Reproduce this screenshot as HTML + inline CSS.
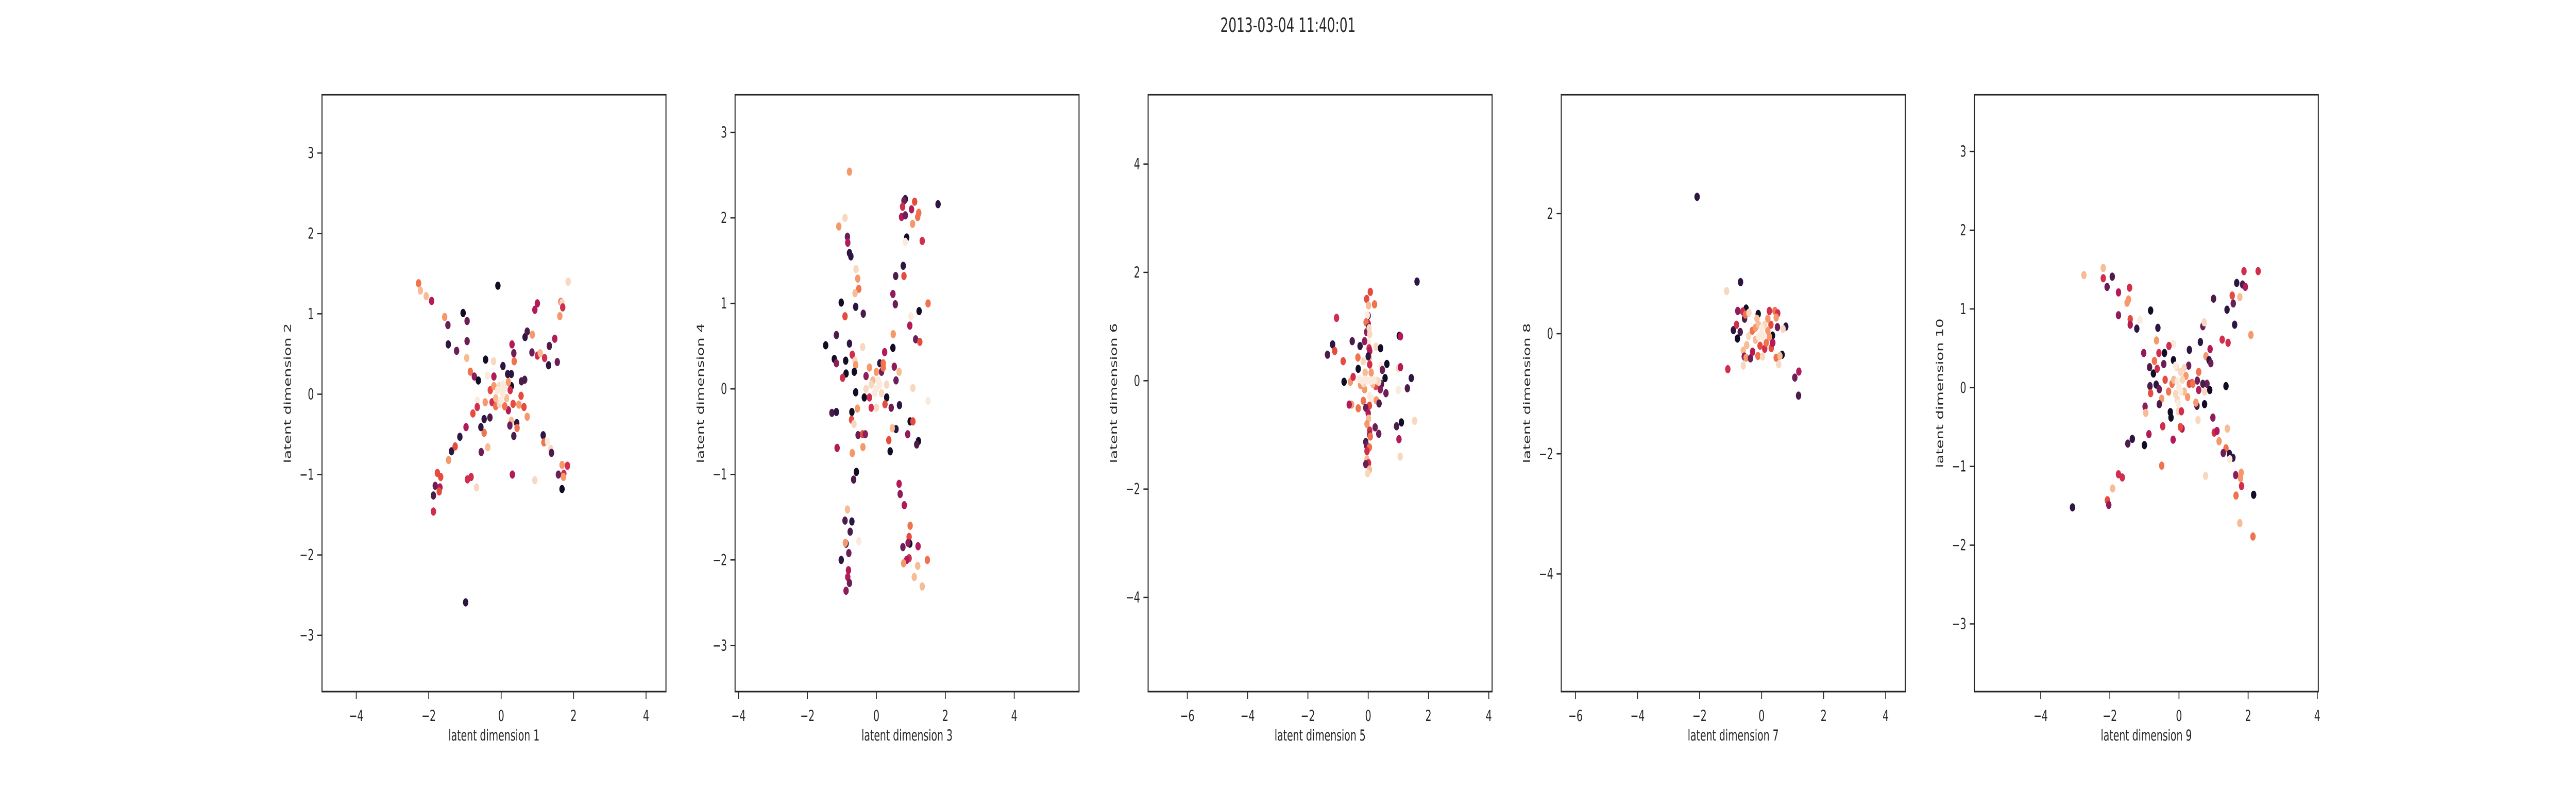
<!DOCTYPE html>
<html><head><meta charset="utf-8"><style>
html,body{margin:0;padding:0;background:#fff;width:100%;height:100%;overflow:hidden;}
svg{display:block;width:100vw;height:100vh;font-family:"DejaVu Sans","Liberation Sans",sans-serif;}
</style></head><body>
<svg id="fig" viewBox="0 0 7680 1536" preserveAspectRatio="none">
<rect x="0" y="0" width="7680" height="1536" fill="#ffffff"/>
<text x="3840" y="62" text-anchor="middle" font-size="38" fill="#262626">2013-03-04 11:40:01</text>
</svg>
<script>
const palette = ['#120c25','#2d1641','#4c1d4b','#6b1f56','#8e1d5b','#b21a58','#d12d4d','#e64b3f','#f0724f','#f5996d','#f7bb96','#f8d8c0','#faebdd'];

const xLabels = ['latent dimension 1','latent dimension 3','latent dimension 5','latent dimension 7','latent dimension 9'];
const yLabels = ['latent dimension 2','latent dimension 4','latent dimension 6','latent dimension 8','latent dimension 10'];
const xDomains = [[-4.946,4.55],[-4.10,5.88],[-7.30,4.11],[-6.46,4.63],[-5.92,4.03]];
const yDomains = [[-3.70,3.725],[-3.54,3.44],[-5.74,5.28],[-5.96,3.98],[-3.86,3.72]];
const xTicks = [[-4,-2,0,2,4],[-4,-2,0,2,4],[-6,-4,-2,0,2,4],[-6,-4,-2,0,2,4],[-4,-2,0,2,4]];
const yTicks = [[-3,-2,-1,0,1,2,3],[-3,-2,-1,0,1,2,3],[-4,-2,0,2,4],[-4,-2,0,2],[-3,-2,-1,0,1,2,3]];

const data1 = [[-2.28,1.38,8],[-2.23,1.29,10],[-2.07,1.22,10],[-1.92,1.16,5],[-1.56,0.96,9],[-1.47,0.86,3],[-1.46,0.62,1],[-1.23,0.54,3],[-1.05,1.01,0],[-0.94,0.91,3],[-0.94,0.66,3],[-0.95,0.45,10],[-0.85,0.28,8],[-0.74,0.22,4],[-0.63,0.17,0],[-0.43,0.43,0],[-0.09,1.35,0],[-0.21,0.41,11],[-0.38,0.23,12],[0.05,0.35,1],[-0.66,-0.08,12],[-0.66,-0.16,6],[-0.78,-0.24,7],[-0.97,-0.41,5],[-1.14,-0.53,1],[-1.37,-0.71,1],[-1.27,-0.65,7],[-1.45,-0.82,9],[-1.76,-0.98,7],[-1.67,-1.03,7],[-1.82,-1.14,3],[-1.69,-1.16,5],[-1.71,-1.21,7],[-1.87,-1.26,2],[-1.87,-1.46,6],[-0.93,-1.06,6],[-0.83,-1.03,6],[-0.68,-1.16,11],[-0.98,-2.59,1],[-0.55,-0.72,3],[-0.37,-0.66,10],[-0.47,-0.48,8],[-0.47,-0.31,1],[-0.56,-0.41,1],[-0.31,-0.29,2],[-0.44,-0.10,9],[0.30,0.62,5],[0.35,0.51,3],[0.36,0.41,8],[0.18,0.25,1],[0.28,0.25,1],[0.56,0.16,2],[0.65,0.18,2],[0.55,-0.02,7],[0.63,-0.16,7],[0.49,-0.13,9],[0.72,-0.28,9],[0.28,-0.33,10],[0.43,-0.36,1],[0.44,-0.42,8],[0.35,-0.52,2],[0.24,-0.39,3],[0.31,-1.00,5],[0.93,-1.07,11],[0.66,0.71,1],[0.72,0.78,2],[0.86,0.74,9],[0.85,0.52,3],[1.00,0.48,6],[1.08,0.51,10],[1.20,0.45,6],[1.31,0.36,1],[1.33,0.60,2],[1.48,0.69,5],[1.55,0.40,3],[0.93,1.05,5],[1.00,1.13,5],[1.65,1.15,8],[1.68,1.14,11],[1.70,1.08,6],[1.62,0.97,9],[1.85,1.40,11],[1.16,-0.51,1],[1.18,-0.60,8],[1.28,-0.59,12],[1.37,-0.68,11],[1.39,-0.73,2],[1.68,-0.88,9],[1.83,-0.89,6],[1.58,-1.00,3],[1.73,-0.99,6],[1.72,-1.03,9],[1.68,-1.18,0],
[0.28,0.1,0],[-0.25,-0.1,6],[0.25,0.05,6],[-0.3,0.05,7],[-0.2,0.22,5],[0.2,-0.2,5],[0.33,-0.12,7],[-0.15,-0.15,8],[0.1,-0.15,8],[-0.2,0.1,9],[0.2,0.15,9],[-0.15,-0.05,10],[0.15,-0.05,10],[-0.05,0.1,11],[-0.05,-0.12,11],[-0.1,0.05,12],[0.05,0,12],[0,-0.08,12],[0.1,0.08,12],[0,0.05,12],[0.05,0.12,12]];

const data2 = [[-0.78,2.54,9],[-0.91,2.00,11],[-1.09,1.90,9],[-0.84,1.78,3],[-0.83,1.71,5],[-0.78,1.59,1],[-0.74,1.55,1],[-0.59,1.40,11],[-0.54,1.29,9],[-0.51,1.17,8],[-0.62,1.12,10],[-1.02,1.01,0],[-0.91,0.85,7],[-0.60,0.96,1],[-0.38,0.88,2],[-1.16,0.63,2],[-1.47,0.51,0],[-1.22,0.35,0],[-1.16,0.30,4],[-0.89,0.33,0],[-0.88,0.18,0],[-0.78,0.53,1],[-0.70,0.40,6],[-0.62,0.33,11],[-0.60,0.28,9],[-0.64,0.20,0],[-0.40,0.49,11],[-0.98,0.13,6],[-0.60,-0.04,0],[-1.29,-0.28,2],[-1.16,-0.27,1],[-0.71,-0.27,0],[-0.72,-0.36,7],[-0.65,-0.41,11],[-0.55,-0.23,9],[-0.53,-0.54,3],[-0.40,-0.53,7],[-0.32,-0.53,4],[-1.14,-0.69,5],[-0.70,-0.75,9],[-0.39,-0.68,9],[-0.58,-0.97,0],[-0.66,-1.06,2],[-0.84,-1.41,10],[-0.91,-1.54,2],[-0.71,-1.55,1],[-0.76,-1.67,2],[-0.88,-1.81,1],[-0.90,-1.80,9],[-0.51,-1.78,12],[-0.80,-1.92,3],[-1.02,-2.00,1],[-0.81,-2.12,5],[-0.83,-2.20,5],[-0.78,-2.27,3],[-0.88,-2.36,4],[0.84,2.22,1],[0.80,2.20,3],[0.76,2.13,6],[1.11,2.19,7],[1.02,2.10,5],[1.23,2.06,8],[1.20,2.01,8],[1.05,1.93,9],[0.73,2.01,5],[0.84,2.03,3],[1.79,2.16,1],[0.88,1.77,0],[0.84,1.72,12],[1.33,1.73,6],[0.78,1.44,1],[0.80,1.32,7],[0.56,1.32,2],[0.48,1.11,4],[0.55,0.99,3],[1.50,1.00,8],[1.00,0.85,12],[1.24,0.91,0],[0.97,0.74,5],[1.14,0.58,3],[1.26,0.55,7],[0.49,0.64,9],[0.48,0.48,0],[0.24,0.43,5],[0.66,0.20,10],[0.57,0.10,3],[0.52,0.26,4],[1.06,0.01,11],[1.50,-0.14,12],[0.67,-0.19,1],[0.43,-0.22,3],[0.57,-0.47,1],[0.46,-0.46,10],[0.36,-0.60,7],[0.40,-0.73,0],[0.91,-0.53,4],[0.98,-0.38,0],[1.06,-0.38,7],[1.22,-0.61,0],[1.17,-0.65,2],[0.66,-1.11,5],[0.69,-1.23,4],[0.81,-1.36,5],[0.98,-1.60,8],[0.95,-1.73,7],[0.97,-1.81,0],[0.92,-1.80,4],[0.77,-1.85,3],[1.21,-1.84,5],[0.95,-1.98,6],[0.88,-2.00,5],[1.48,-2.00,8],[0.79,-2.04,9],[1.20,-2.07,10],[1.10,-2.20,10],[1.33,-2.31,10],
[-0.3,0.15,4],[0.1,0.3,1],[0.15,0.2,3],[-0.35,-0.1,0],[0.3,-0.1,0],[-0.2,-0.1,6],[-0.15,-0.22,6],[0.25,-0.18,7],[0.2,0.3,8],[0.2,0.25,8],[-0.2,0.25,9],[0,0.2,9],[-0.1,0.1,10],[0,-0.22,11],[0.15,-0.05,11],[-0.15,0.05,11],[0.3,0.05,11],[-0.3,0,11],[0.1,0.05,12],[0,0,12],[-0.05,-0.05,12],[0.05,0.1,12]];

const data3 = [[1.62,1.83,1],[0.07,1.64,7],[-0.05,1.51,7],[0.21,1.41,8],[0,1.2,3],[0,1.05,5],[-0.05,0.9,4],[0.01,1.39,10],[-0.03,1.21,12],[-1.05,1.16,6],[-0.07,1.08,8],[0.01,0.98,1],[0.03,0.97,11],[0.05,0.86,11],[1.03,0.83,0],[1.07,0.82,5],[0.01,0.71,12],[-0.53,0.73,2],[-1.18,0.67,1],[-1.35,0.48,2],[-1.11,0.55,7],[-0.27,0.64,1],[-0.12,0.73,4],[0.03,0.60,6],[0.26,0.63,11],[0.41,0.60,0],[-0.83,0.36,7],[-0.34,0.43,8],[-0.16,0.36,11],[0.04,0.43,10],[0.42,0.27,12],[0.62,0.31,0],[0.47,0.20,3],[-0.33,0.22,0],[1.00,0.23,11],[1.07,0.25,5],[1.43,0.05,1],[-0.80,-0.02,0],[-0.59,-0.02,9],[-0.50,0.07,6],[0.56,0.05,0],[0.44,-0.06,2],[1.30,-0.14,2],[0.59,-0.23,3],[1.00,-0.17,12],[0.40,-0.16,4],[-0.12,-0.16,9],[0.04,-0.28,12],[0.12,-0.34,12],[0.27,-0.36,9],[0.36,-0.42,2],[-0.16,-0.37,8],[0.04,-0.46,7],[-0.55,-0.44,9],[-0.63,-0.44,5],[-0.33,-0.51,8],[-0.08,-0.50,3],[0,-0.6,5],[0.01,-0.70,10],[-0.04,-0.80,9],[0.23,-0.86,3],[1.10,-0.77,0],[0.94,-0.84,2],[1.54,-0.74,11],[0.35,-0.98,3],[0.05,-0.92,6],[0.05,-1.0,4],[-0.08,-1.13,2],[0.07,-1.03,8],[1.02,-1.08,5],[-0.05,-1.2,3],[0.04,-1.23,8],[-0.04,-1.30,6],[-0.04,-1.45,10],[1.06,-1.40,11],[0.01,-1.52,6],[-0.08,-1.54,3],[0.04,-1.64,10],[-0.02,-1.71,11],
[0.05,0.55,5],[0,0.45,1],[0.05,0.3,6],[0.25,-0.1,7],[-0.25,-0.08,9],[0.1,0.15,9],[-0.1,0.15,10],[0.15,-0.06,10],[0.3,0,11],[0.35,-0.02,11],[-0.15,-0.05,11],[-0.3,0.03,12],[-0.2,0,12],[-0.1,0.02,12],[0,0,12],[0.1,0,12],[0.2,0.01,12]];

const data4 = [[-2.08,2.28,1],[-0.68,0.86,1],[-1.13,0.71,11],[-0.77,0.38,4],[-0.50,0.42,0],[-0.61,0.37,6],[-0.55,0.25,2],[-0.52,0.32,8],[-0.41,0.35,11],[-0.11,0.33,0],[0.25,0.38,6],[0.43,0.38,8],[0.52,0.34,6],[0.47,0.27,9],[0.51,0.11,3],[0.78,0.12,1],[0.69,0.08,11],[-0.91,0.06,1],[-0.69,0.03,2],[-0.81,0.15,6],[-0.78,-0.08,0],[-0.42,-0.04,11],[0.35,-0.03,0],[0.36,-0.15,4],[0.31,-0.24,7],[-0.48,-0.19,10],[-0.59,-0.28,10],[-0.56,-0.38,4],[-0.50,-0.40,9],[-0.36,-0.41,3],[-0.29,-0.30,5],[-0.12,-0.37,8],[0.03,-0.38,11],[0.66,-0.35,0],[0.47,-0.40,8],[0.59,-0.37,10],[0.55,-0.51,11],[-0.59,-0.53,11],[-1.09,-0.59,6],[1.20,-0.63,5],[1.07,-0.73,3],[1.19,-1.03,2],
[0.35,-0.15,5],[0.1,-0.25,6],[-0.05,-0.2,7],[0.3,0.15,7],[0.15,-0.15,8],[-0.3,0.05,8],[-0.2,0.1,9],[0.2,0.05,9],[0.25,-0.05,9],[0.2,0.25,9],[-0.1,0.15,10],[-0.2,-0.1,10],[-0.15,0.25,10],[0.1,0.15,11],[0,0,12],[-0.1,-0.05,12],[0.05,-0.05,12],[0,0.1,12]];

const data5 = [[-2.75,1.43,10],[-2.19,1.52,10],[-2.19,1.39,6],[-1.93,1.41,2],[-2.08,1.28,3],[-1.75,1.21,5],[-1.43,1.27,6],[-1.46,1.12,9],[-1.50,1.08,9],[-1.75,0.92,4],[-1.41,0.87,7],[-1.41,0.80,5],[-1.13,0.86,12],[-1.22,0.75,1],[-0.82,0.98,0],[-0.61,0.76,1],[-0.65,0.60,9],[-0.16,0.56,12],[-0.29,0.53,6],[-1.02,0.44,4],[-0.58,0.44,6],[-0.42,0.44,0],[-0.71,0.34,8],[-0.44,0.30,3],[-0.85,0.26,2],[-0.74,0.18,0],[-0.63,0.24,6],[-0.84,0.02,2],[-0.66,0.04,1],[-0.57,-0.02,3],[-0.82,-0.07,7],[-0.50,-0.14,9],[-0.57,-0.21,2],[-0.98,-0.24,4],[-0.96,-0.32,10],[-0.25,-0.31,0],[-0.23,-0.38,0],[-0.47,-0.49,6],[-0.17,-0.66,5],[-0.87,-0.59,5],[-1.35,-0.65,1],[-1.48,-0.71,2],[-1.00,-0.73,0],[-0.50,-0.99,8],[-1.75,-1.10,6],[-1.64,-1.14,6],[-1.92,-1.28,10],[-2.07,-1.43,7],[-2.03,-1.49,4],[-3.08,-1.52,1],[-0.07,0.26,11],[-0.16,0.35,0],[0.30,0.48,1],[0.62,0.58,1],[0.69,0.78,3],[0.73,0.83,11],[1.00,1.13,2],[0.90,0.49,5],[0.78,0.40,9],[0.87,0.35,1],[0.92,0.31,3],[0.28,0.28,3],[0.57,0.20,8],[0.53,0.09,3],[0.81,0.05,3],[0.69,0.05,2],[0.38,0.06,7],[0.89,-0.03,0],[0.74,-0.05,11],[1.36,0.02,0],[0.57,-0.03,5],[0.74,-0.21,0],[0.52,-0.23,2],[0.49,-0.19,9],[0.55,-0.41,11],[0.98,-0.38,4],[1.02,-0.57,6],[1.10,-0.55,5],[1.16,-0.68,9],[1.36,-0.77,8],[1.28,-0.83,3],[1.46,-0.84,1],[1.56,-0.89,1],[1.47,-0.91,12],[1.40,-0.52,10],[0.09,-0.52,5],[0.04,-0.50,7],[0.77,-1.12,11],[1.64,-1.11,4],[1.80,-1.08,9],[1.78,-1.15,9],[1.81,-1.25,6],[1.65,-1.37,8],[2.16,-1.36,0],[1.76,-1.72,10],[2.14,-1.89,8],[1.25,0.61,6],[1.42,0.57,6],[2.08,0.67,9],[1.39,0.99,1],[1.61,0.80,1],[1.57,1.07,3],[1.54,1.17,7],[1.76,1.15,10],[1.67,1.33,1],[1.84,1.31,2],[1.92,1.28,5],[1.88,1.48,6],[2.29,1.48,6],[-0.02,-0.30,11],[0.07,-0.30,6],
[0.3,0.05,7],[-0.4,0.1,7],[-0.2,0.05,8],[-0.3,-0.05,8],[0.4,0.05,8],[0.2,0.15,9],[0.25,-0.12,9],[0.15,-0.05,10],[-0.15,0.1,10],[0.1,0.1,11],[-0.1,-0.08,11],[-0.05,-0.15,11],[0.05,0.2,11],[0.15,0.25,11],[0,0,12],[-0.05,0.08,12],[0.05,-0.05,12],[-0.1,0.28,12],[-0.02,-0.2,12]];

const datasets = [data1, data2, data3, data4, data5];

const NS = 'http://www.w3.org/2000/svg';
const svg = document.getElementById('fig');
const panelLeft = [960, 2191.5, 3423, 4654.7, 5886.2];
const panelW = 1025.5, panelTop = 184, panelBottom = 1343;
const INK = '#262626';

function mk(tag, attrs, parent) {
  const e = document.createElementNS(NS, tag);
  for (const k in attrs) e.setAttribute(k, attrs[k]);
  parent.appendChild(e);
  return e;
}
function fmt(v) { return v < 0 ? '\u2212' + Math.abs(v) : String(v); }

for (let p = 0; p < 5; p++) {
  const L = panelLeft[p], R = L + panelW, T = panelTop, B = panelBottom;
  const xd = xDomains[p], yd = yDomains[p];
  const sx = v => L + (v - xd[0]) / (xd[1] - xd[0]) * (R - L);
  const sy = v => B - (v - yd[0]) / (yd[1] - yd[0]) * (B - T);
  const g = mk('g', {}, svg);
  
  

  const pts = mk('g', {}, g);
  
  
  datasets[p].forEach(d => {
    const c = mk('circle', {cx: sx(d[0]).toFixed(1), cy: sy(d[1]).toFixed(1), r: 8, fill: palette[d[2]]}, pts);
    
    
  });

  const frame = mk('rect', {x: L, y: T, width: R - L, height: B - T, fill: 'none', stroke: INK, 'stroke-width': 3}, g);
  
  

  xTicks[p].forEach(v => {
    const x = sx(v);
    const t = mk('line', {x1: x, x2: x, y1: B, y2: B + 14, stroke: INK, 'stroke-width': 2.5}, g);
    
    
    const lb = mk('text', {x: x, y: 1400, 'text-anchor': 'middle', 'font-size': 29, fill: INK}, g);
    lb.textContent = fmt(v);
    
    
  });
  yTicks[p].forEach(v => {
    const y = sy(v);
    const t = mk('line', {x1: L - 14, x2: L, y1: y, y2: y, stroke: INK, 'stroke-width': 2.5}, g);
    
    
    const lb = mk('text', {x: L - 24, y: y + 10, 'text-anchor': 'end', 'font-size': 29, fill: INK}, g);
    lb.textContent = fmt(v);
    
    
  });
  const xl = mk('text', {x: (L + R) / 2, y: 1438, 'text-anchor': 'middle', 'font-size': 29, fill: INK}, g);
  xl.textContent = xLabels[p];
  
  
  const cy = (T + B) / 2, cx = L - 93;
  const yl = mk('text', {x: cx, y: cy, 'text-anchor': 'middle', 'font-size': 29, fill: INK, transform: 'rotate(-90 ' + cx + ' ' + cy + ')'}, g);
  yl.textContent = yLabels[p];
  
  
}
</script>
</body></html>
